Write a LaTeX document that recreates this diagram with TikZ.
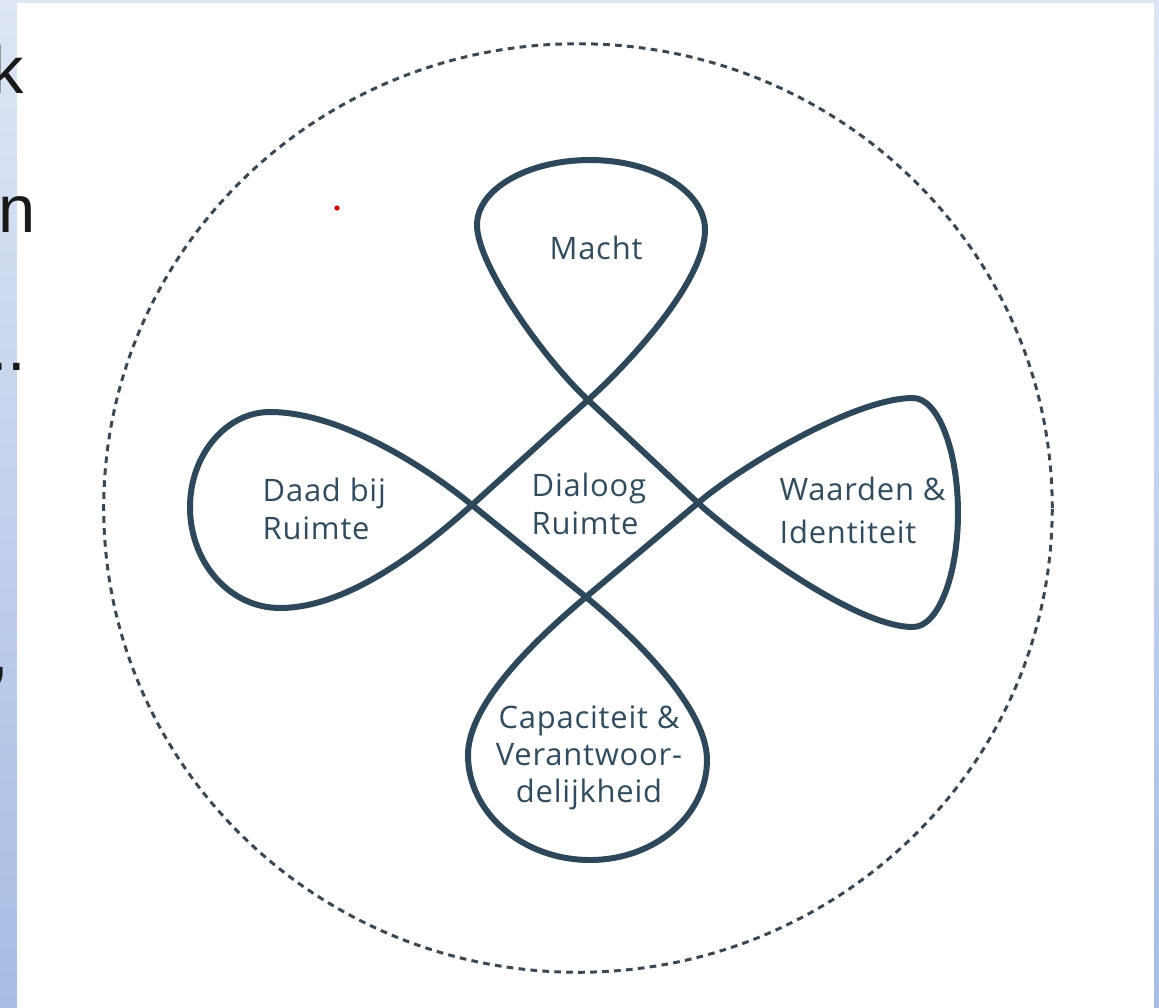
\documentclass[tikz,border=0pt]{standalone}
\usepackage{fontspec}
\usetikzlibrary{shadings}
\newfontfamily\labelfont[LetterSpace=2.5]{Open Sans}
\newfontfamily\slidefont{Liberation Sans}
\definecolor{slate}{RGB}{44,72,90}
\definecolor{labelcol}{RGB}{50,76,94}
\definecolor{dashcol}{RGB}{58,72,84}
\definecolor{bgtop}{RGB}{222,230,245}
\definecolor{bgbottom}{RGB}{167,188,227}
\tikzset{
  loopline/.style={draw=slate, line width=1.7pt, line join=round},
  ring/.style={draw=dashcol, line width=0.85pt, dash pattern=on 1.9pt off 1.5pt},
  lbl/.style={font=\labelfont\fontsize{8.8}{10.9}\selectfont, text=labelcol, inner sep=0pt},
  frag/.style={font=\slidefont\fontsize{19}{22}\selectfont, text=black!90, inner sep=0pt}
}
\begin{document}
\begin{tikzpicture}[x=0.01cm, y=-0.01cm]
  \useasboundingbox (0,0) rectangle (1159,1008);
  % slide background and white panel
  \shade[top color=bgtop, bottom color=bgbottom] (0,0) rectangle (1159,1008);
  \fill[white] (17,3) rectangle (1154,1008);

  % text fragments at the slide edge
  \node[frag, anchor=base east] (fk) at (25,93) {k};
  \node[frag, anchor=base east] (fn) at (36,232) {n};
  \node[frag, anchor=base east] (fd) at (27,370) {..};
  \node[frag, anchor=base east] (fc) at (10,674) {,};

  % small red mark
  \fill[red!80!black] (337,208) circle [radius=2.6];

  % dashed outer ring
  \draw[ring] (578,508) ellipse [x radius=4.74cm, y radius=4.64cm];

  % crossing points of the four-leaf loop
  \coordinate (T) at (588,400);
  \coordinate (L) at (472,505);
  \coordinate (B) at (586,597);
  \coordinate (R) at (698,503);

  % one continuous loop through the four crossings
  \draw[loopline] (L)
    .. controls (427.5,545) and (350,608) .. (280,608)
    .. controls (230,608) and (190,563) .. (190,507)
    .. controls (190,455) and (226,412) .. (270,412)
    .. controls (340,412) and (425.7,466.9) .. (L)
    -- (B)
    .. controls (640,641.5) and (707,710) .. (707,760)
    .. controls (707,815) and (655,860) .. (590,860)
    .. controls (523,860) and (468,813) .. (468,755)
    .. controls (468,705) and (532.5,642) .. (B)
    -- (R)
    .. controls (736,470) and (853,398) .. (913,398)
    .. controls (938,398) and (958,450) .. (958,513)
    .. controls (958,576) and (938,627) .. (913,627)
    .. controls (853,627) and (734.5,536) .. (R)
    -- (T)
    .. controls (544,359) and (477,265) .. (477,225)
    .. controls (477,189) and (528,160) .. (590,160)
    .. controls (653,160) and (705,191) .. (705,230)
    .. controls (705,280) and (632.5,360) .. (T)
    -- cycle;

  % labels
  \node[lbl, anchor=north] (macht) at (596,235) {Macht};
  \node[lbl, anchor=north west, align=left] (daad) at (262,477) {Daad bij\\Ruimte};
  \node[lbl, anchor=north west, align=left] (dialoog) at (531,472) {Dialoog\\Ruimte};
  \node[lbl, anchor=north west, align=left, font=\labelfont\fontsize{8.8}{12.2}\selectfont] (waarden) at (779,476) {Waarden \&\\Identiteit};
  \node[lbl, anchor=north, align=center, font=\labelfont\fontsize{8.8}{10.5}\selectfont] (cap) at (589,705) {Capaciteit \&\\Verantwoor-\\delijkheid};
\end{tikzpicture}
\end{document}
